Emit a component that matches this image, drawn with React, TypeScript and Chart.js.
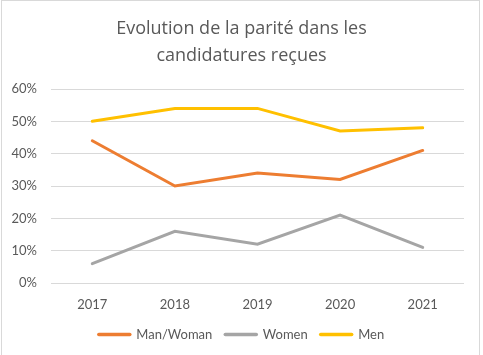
import React, { useEffect, useRef } from "react";
import { Chart, registerables } from "chart.js";

Chart.register(...registerables);

const years = ["2017", "2018", "2019", "2020", "2021"];
const manWoman = [44, 30, 34, 32, 41];
const women = [6, 16, 12, 21, 11];
const men = [50, 54, 54, 47, 48];
const titleLines = ["Evolution de la parité dans les", "candidatures reçues"];

const FONT = "Lato, 'Open Sans', sans-serif";
const TITLE_FONT = "'Open Sans', Lato, sans-serif";
const TEXT = "#595959";

export default function App() {
  const ref = useRef<HTMLCanvasElement | null>(null);

  useEffect(() => {
    document.body.style.margin = "0";
    const ctx = ref.current!;
    const chart = new Chart(ctx, {
      type: "line",
      data: {
        labels: years,
        datasets: [
          { label: "Man/Woman", data: manWoman, borderColor: "#ED7D31", backgroundColor: "#ED7D31" },
          { label: "Women", data: women, borderColor: "#A5A5A5", backgroundColor: "#A5A5A5" },
          { label: "Men", data: men, borderColor: "#FFC000", backgroundColor: "#FFC000" },
        ].map((d) => ({ ...d, borderWidth: 3, pointRadius: 0, tension: 0, fill: false, borderCapStyle: "round" as const })),
      },
      options: {
        responsive: false,
        animation: false,
        layout: { padding: { left: 0, right: 0, top: 0, bottom: 4 } },
        plugins: {
          title: {
            display: true,
            text: titleLines,
            color: TEXT,
            font: { family: TITLE_FONT, size: 18, weight: "normal", lineHeight: 1.5 },
            padding: { top: 15, bottom: 20 },
          },
          legend: {
            position: "bottom",
            labels: {
              usePointStyle: true,
              pointStyle: "line",
              pointStyleWidth: 31,
              color: TEXT,
              font: { family: FONT, size: 13 },
              padding: 13,
              generateLabels: (c: any) =>
                Chart.defaults.plugins.legend.labels.generateLabels(c).map((l: any) => ({
                  ...l,
                  lineWidth: 3.5,
                  lineCap: "round",
                })),
            },
          },
          tooltip: { enabled: false },
        },
        scales: {
          x: {
            offset: true,
            grid: { display: false, drawTicks: false },
            border: { display: false },
            ticks: { color: TEXT, font: { family: FONT, size: 13 }, padding: 14, maxRotation: 0 },
            afterFit: (s: any) => { s.height = 32; },
          },
          y: {
            min: 0,
            max: 60,
            grid: { color: "#D9D9D9", lineWidth: 1, drawTicks: false },
            border: { display: false },
            ticks: {
              stepSize: 10,
              color: TEXT,
              font: { family: FONT, size: 13 },
              padding: 14,
              callback: (v: any) => v + "%",
            },
            afterFit: (s: any) => { s.width = 51; },
          },
          yRight: {
            position: "right",
            grid: { display: false, drawTicks: false },
            border: { display: false },
            ticks: { display: false },
            afterFit: (s: any) => { s.width = 19; },
          },
        },
      },
    });
    return () => chart.destroy();
  }, []);

  return (
    <div style={{ position: "relative", width: 483, height: 355, background: "#fff" }}>
      <canvas ref={ref} width={483} height={355} style={{ display: "block" }} />
      <div
        style={{
          position: "absolute",
          left: 1,
          top: 0,
          width: 477,
          height: 360,
          border: "1px solid #D9D9D9",
          pointerEvents: "none",
        }}
      />
    </div>
  );
}
